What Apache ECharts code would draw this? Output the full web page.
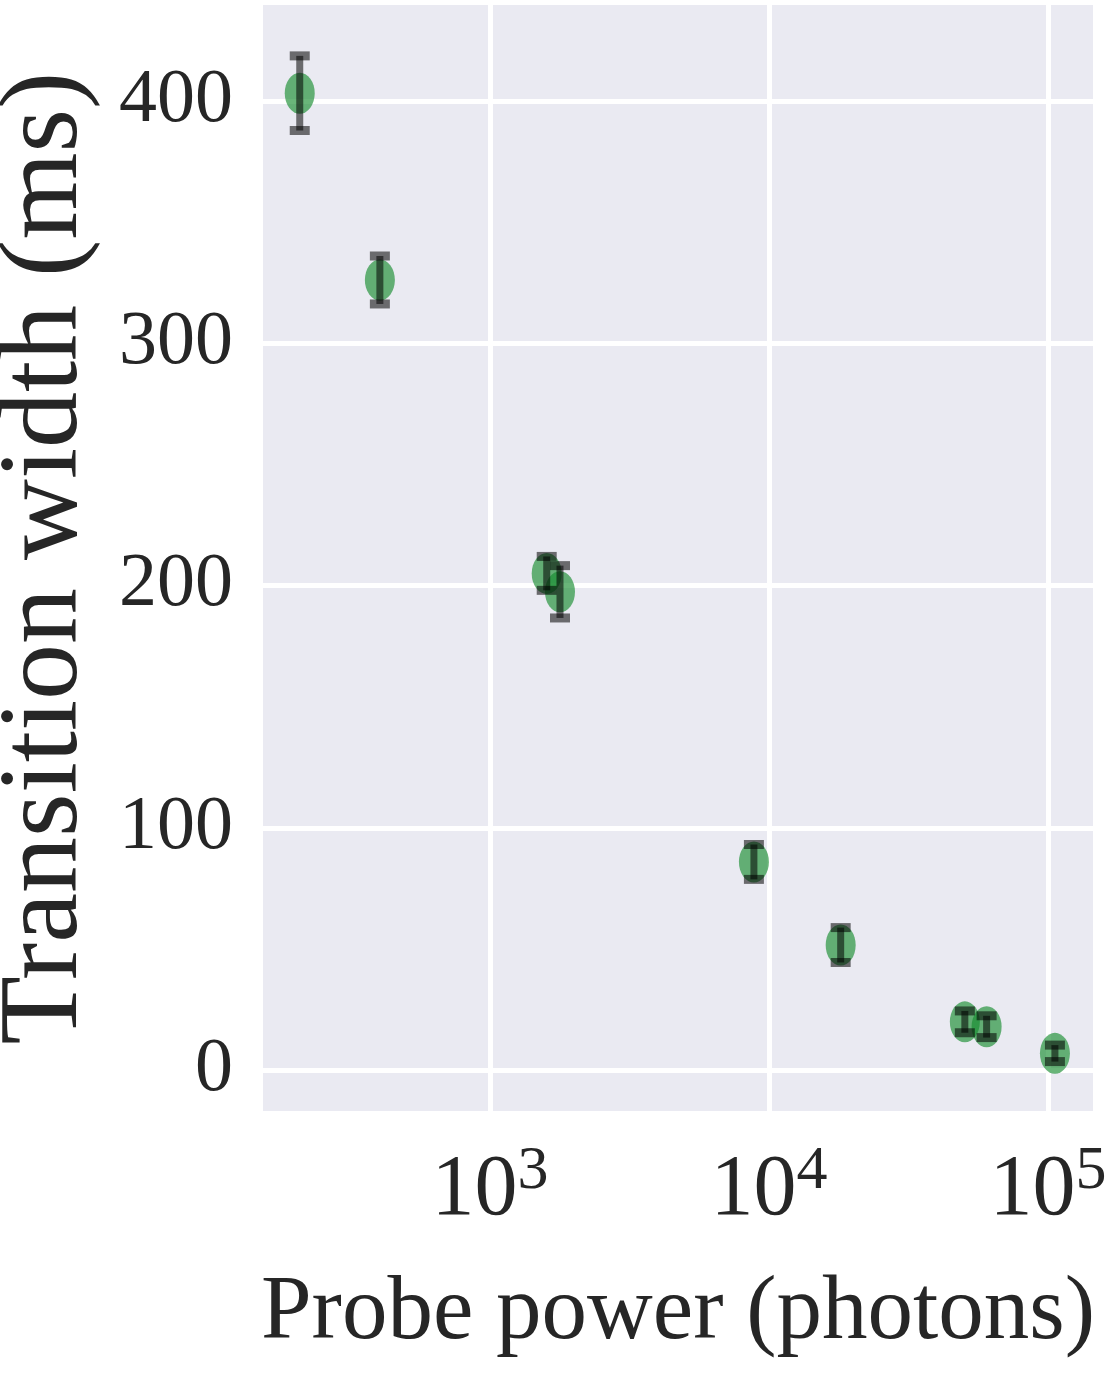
<!DOCTYPE html>
<html>
<head>
<meta charset="utf-8">
<script src="https://cdn.jsdelivr.net/npm/echarts@6/dist/echarts.min.js"></script>
<style>
  html, body { margin: 0; padding: 0; background: #fff; }
  #chart { width: 1108px; height: 1382px; }
</style>
</head>
<body>
<div id="chart"></div>
<script>
// probe power (photons), transition width (ms), error (ms)
const photons = [208, 403, 1597, 1782, 8830, 18070, 50350, 60260, 105900]
const widthMs = [403.2, 326.1, 205.0, 197.4, 85.9, 51.6, 19.9, 17.9, 6.9]
const errMs = [15.4, 9.9, 7.0, 10.8, 7.2, 7.2, 4.5, 4.5, 3.4]
const yTicks = [0, 100, 200, 300, 400]

const font = "'Liberation Serif', 'DejaVu Serif', serif"
const textColor = "#262626"

const points = photons.map((p, i) => [p, widthMs[i], errMs[i]])

const chart = echarts.init(document.getElementById("chart"))
const option = {
  backgroundColor: "#ffffff",
  animation: false,
  grid: {
    left: 263,
    right: 15,
    top: 5,
    bottom: 271,
    outerBoundsMode: "none",
    containLabel: false,
    show: true,
    backgroundColor: "#eaeaf2",
    borderWidth: 0,
  },
  xAxis: {
    type: "log",
    logBase: 10,
    min: 153.6,
    max: 145000,
    name: "Probe power (photons)",
    nameLocation: "middle",
    nameGap: 158,
    nameTextStyle: { fontFamily: font, fontSize: 91, color: textColor },
    axisLine: { show: false },
    axisTick: { show: false },
    minorTick: { show: false },
    splitLine: {
      show: true,
      showMinLine: false,
      showMaxLine: false,
      lineStyle: { color: "#ffffff", width: 5 },
    },
    axisLabel: {
      margin: 30,
      showMinLabel: false,
      showMaxLabel: false,
      hideOverlap: false,
      formatter: (v) => {
        const l = Math.log10(v)
        const e = Math.round(l)
        if (Math.abs(l - e) > 1e-6) return ""
        return "{b|10}{s|" + e + "}"
      },
      rich: {
        b: { fontFamily: font, fontSize: 86, color: textColor, lineHeight: 100 },
        s: { fontFamily: font, fontSize: 62, color: textColor, verticalAlign: "top", lineHeight: 56 },
      },
    },
  },
  yAxis: {
    type: "value",
    min: -16.9,
    max: 439.6,
    minInterval: 100,
    maxInterval: 100,
    name: "Transition width (ms)",
    nameLocation: "middle",
    nameGap: 160,
    nameTextStyle: { fontFamily: font, fontSize: 112, color: textColor },
    axisLine: { show: false },
    axisTick: { show: false },
    splitLine: {
      show: true,
      showMinLine: false,
      showMaxLine: false,
      lineStyle: { color: "#ffffff", width: 5 },
    },
    axisLabel: {
      margin: 30,
      fontFamily: font,
      fontSize: 76,
      color: textColor,
      showMinLabel: false,
      showMaxLabel: false,
      formatter: (v) => (yTicks.includes(Math.round(v)) && Math.abs(v - Math.round(v)) < 1e-6 ? String(Math.round(v)) : ""),
    },
  },
  series: [
    {
      type: "scatter",
      data: points.map((d) => [d[0], d[1]]),
      symbol: "circle",
      symbolSize: [30, 41],
      itemStyle: { color: "rgba(20,140,45,0.8)" },
      z: 2,
    },
    {
      type: "custom",
      data: points,
      z: 3,
      renderItem: (params, api) => {
        const x = api.value(0)
        const y = api.value(1)
        const e = api.value(2)
        const top = api.coord([x, y + e])
        const bot = api.coord([x, y - e])
        const style = { stroke: "rgba(0,0,0,0.55)", lineWidth: 7 }
        const capStyle = { stroke: "rgba(0,0,0,0.55)", lineWidth: 9 }
        const cw = 10
        return {
          type: "group",
          children: [
            { type: "line", shape: { x1: top[0], y1: top[1], x2: bot[0], y2: bot[1] }, style },
            { type: "line", shape: { x1: top[0] - cw, y1: top[1], x2: top[0] + cw, y2: top[1] }, style: capStyle },
            { type: "line", shape: { x1: bot[0] - cw, y1: bot[1], x2: bot[0] + cw, y2: bot[1] }, style: capStyle },
          ],
        }
      },
    },
  ],
}
chart.setOption(option)
window.addEventListener("resize", () => chart.resize())
</script>
</body>
</html>
